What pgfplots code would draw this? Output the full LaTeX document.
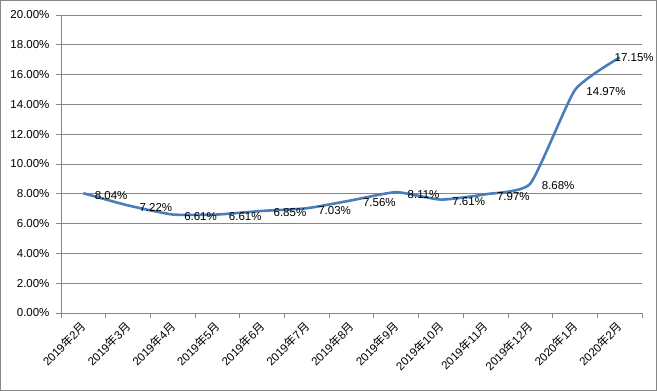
\documentclass[border=0pt]{standalone}
\usepackage{pgfplots}
\pgfplotsset{compat=1.18}
\usepackage{fontspec}
\setmainfont{Liberation Sans}
\newfontfamily\cjk{Noto Sans CJK SC}
\definecolor{linecol}{HTML}{4A7EBB}
\definecolor{axgray}{HTML}{868686}
\begin{document}
\begin{tikzpicture}
\useasboundingbox (-61bp,-78bp) rectangle (596bp,313bp);
\draw[axgray, line width=0.8bp] (-60.5bp,-77.5bp) rectangle (595.5bp,312.5bp);
\begin{axis}[
  at={(0,0)}, anchor=south west,
  scale only axis, width=581bp, height=298bp,
  xmin=-0.5, xmax=12.5, ymin=0, ymax=20,
  axis x line*=bottom, axis y line*=left,
  axis line style={axgray, line width=0.8bp, -},
  ytick={0,2,...,20},
  ymajorgrids, grid style={axgray, line width=0.8bp},
  xtick={0,...,12},
  xticklabels={2019{\cjk 年}2{\cjk 月},2019{\cjk 年}3{\cjk 月},2019{\cjk 年}4{\cjk 月},2019{\cjk 年}5{\cjk 月},2019{\cjk 年}6{\cjk 月},2019{\cjk 年}7{\cjk 月},2019{\cjk 年}8{\cjk 月},2019{\cjk 年}9{\cjk 月},2019{\cjk 年}10{\cjk 月},2019{\cjk 年}11{\cjk 月},2019{\cjk 年}12{\cjk 月},2020{\cjk 年}1{\cjk 月},2020{\cjk 年}2{\cjk 月}},
  minor xtick={-0.5,0.5,...,12.5},
  every major x tick/.style={draw=none},
  tick align=outside, major tick length=5bp, minor tick length=5bp,
  tick style={axgray, line width=0.8bp},
  /pgf/number format/assume math mode=true,
  tick label style={font=\fontsize{11.5bp}{13bp}\selectfont, black},
  yticklabel={\pgfmathprintnumber[fixed,fixed zerofill,precision=2]{\tick}\%},
  yticklabel style={xshift=-3bp},
  xticklabel style={rotate=45, anchor=east, xshift=-1bp, yshift=-5bp},
  clip=false,
]
\addplot[linecol, line width=2.6bp, smooth, tension=0.3] coordinates {
(0,8.04) (1,7.22) (2,6.61) (3,6.61) (4,6.85) (5,7.03) (6,7.56) (7,8.11) (8,7.61) (9,7.97) (10,8.68) (11,14.97) (12,17.15)
};
\addplot[draw=none, mark=none,
  nodes near coords={\pgfmathprintnumber[fixed,fixed zerofill,precision=2]{\pgfplotspointmeta}\%},
  every node near coord/.append style={anchor=west, xshift=8bp, yshift=-2bp, black, font=\fontsize{11.5bp}{13bp}\selectfont, /pgf/number format/assume math mode=true}]
coordinates {
(0,8.04) (1,7.22) (2,6.61) (3,6.61) (4,6.85) (5,7.03) (6,7.56) (7,8.11) (8,7.61) (9,7.97) (10,8.68) (11,14.97)
};
\addplot[draw=none, mark=none,
  nodes near coords={\pgfmathprintnumber[fixed,fixed zerofill,precision=2]{\pgfplotspointmeta}\%},
  every node near coord/.append style={anchor=west, xshift=-8.5bp, yshift=0bp, black, font=\fontsize{11.5bp}{13bp}\selectfont, /pgf/number format/assume math mode=true}]
coordinates {
(12,17.15)
};
\end{axis}
\end{tikzpicture}
\end{document}
